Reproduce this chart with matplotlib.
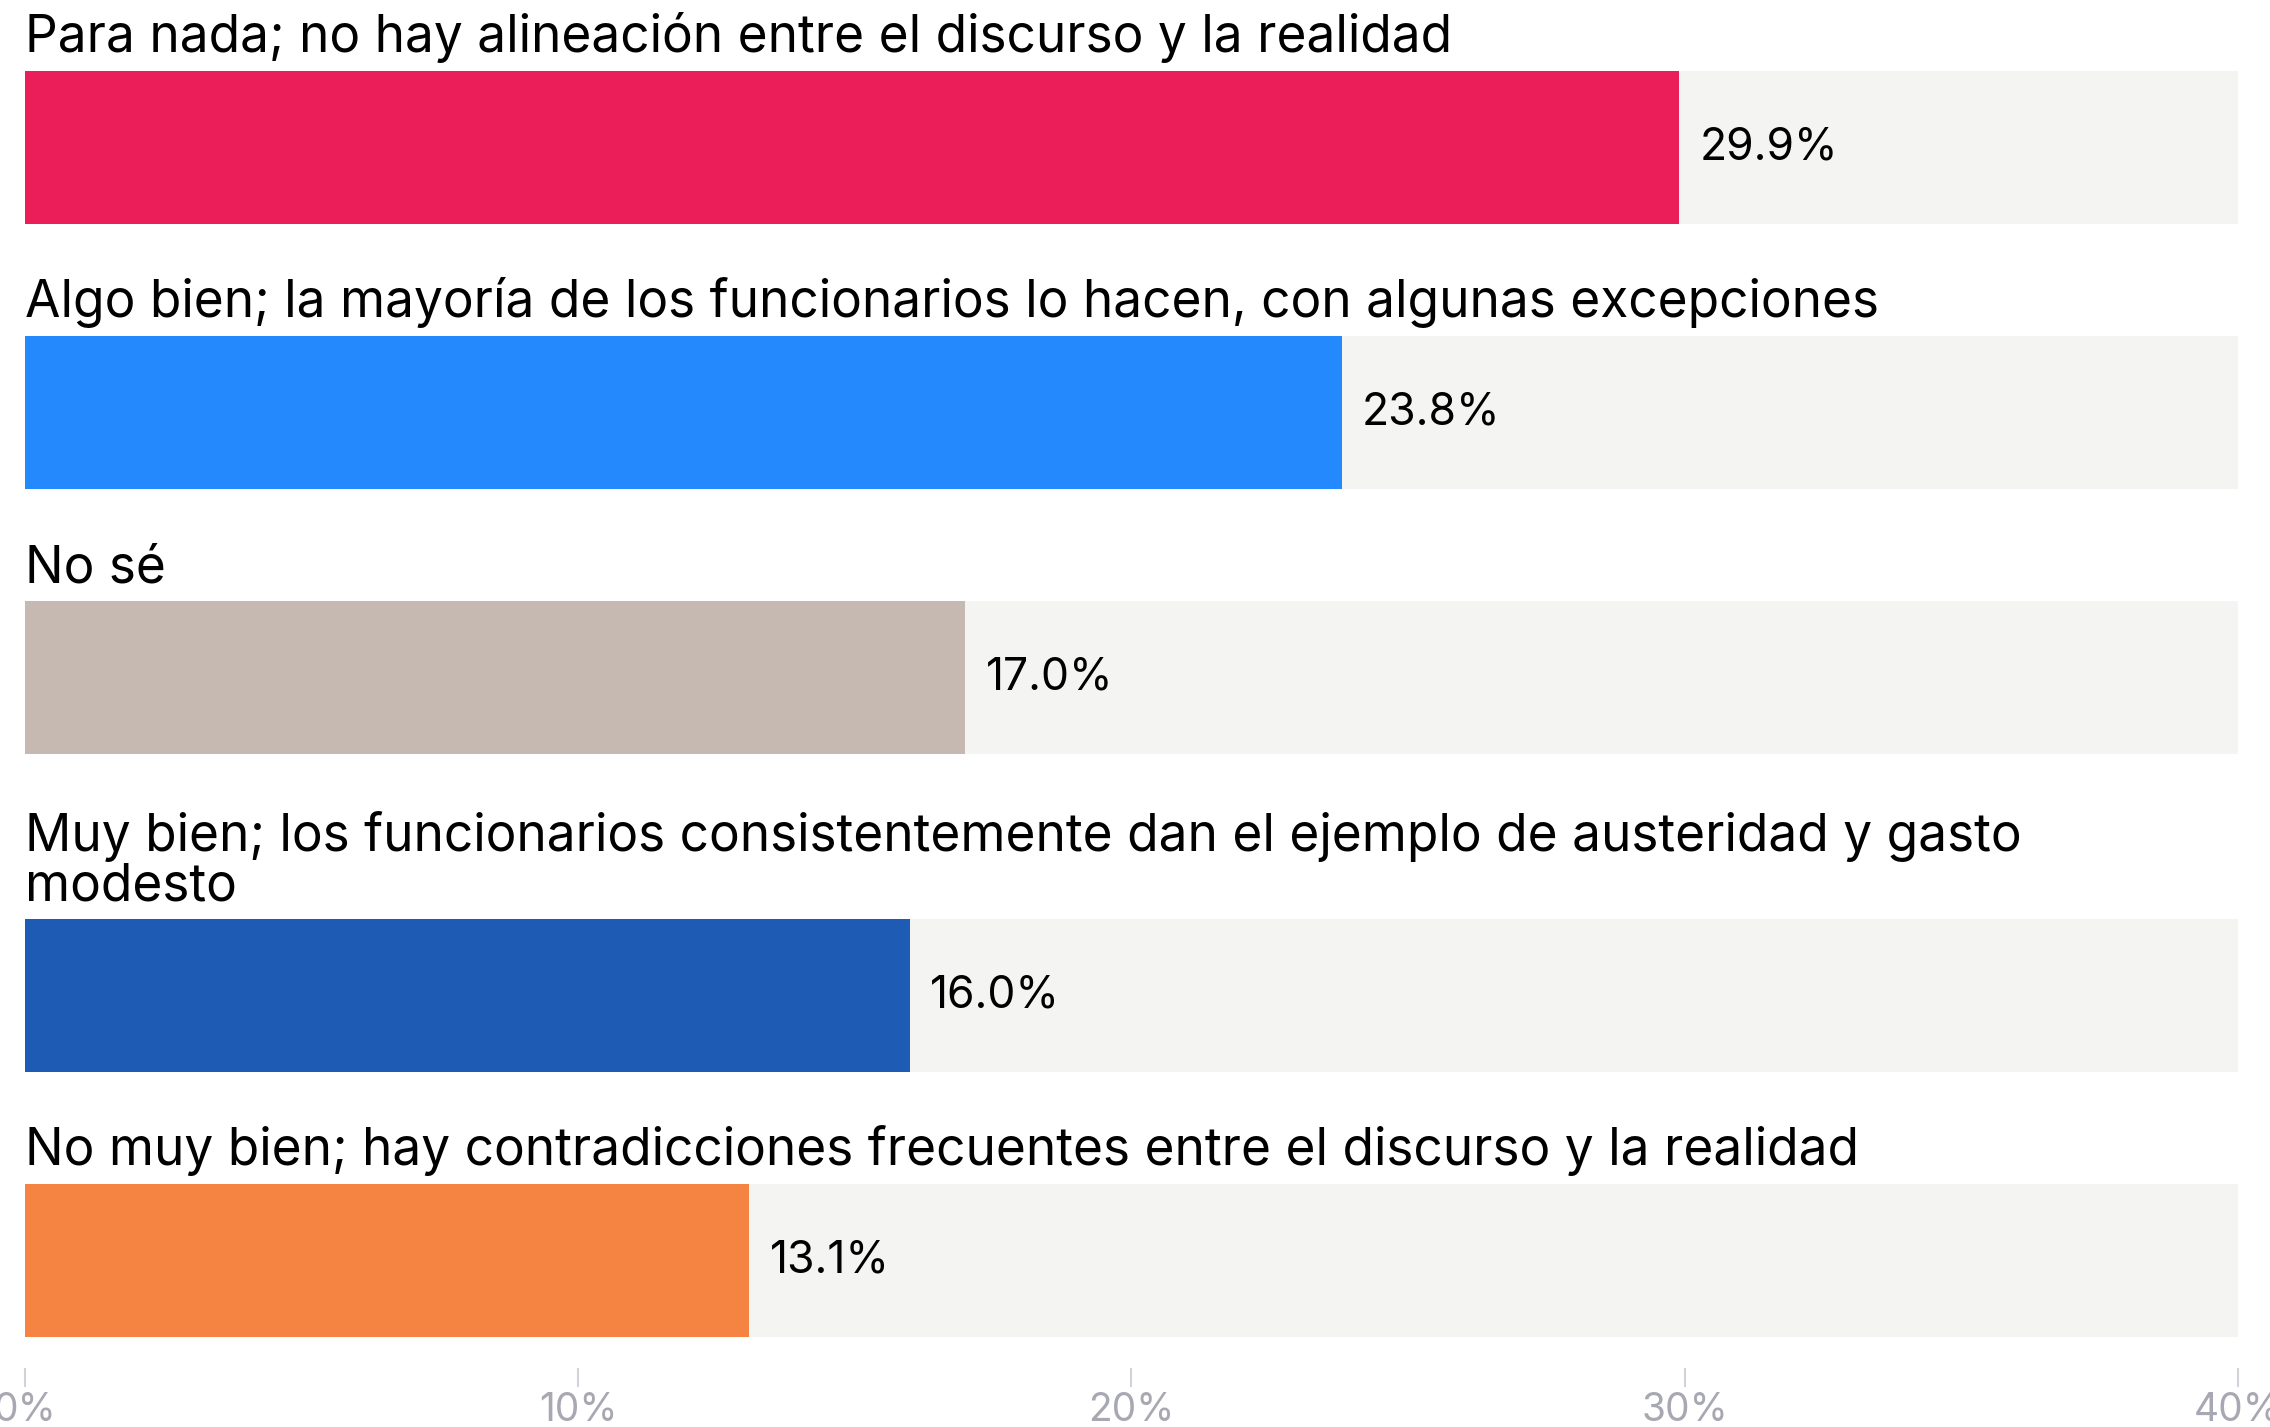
import textwrap
import matplotlib.pyplot as plt

# Data
categories = [
    "Para nada; no hay alineación entre el discurso y la realidad",
    "Algo bien; la mayoría de los funcionarios lo hacen, con algunas excepciones",
    "No sé",
    "Muy bien; los funcionarios consistentemente dan el ejemplo de austeridad y gasto modesto",
    "No muy bien; hay contradicciones frecuentes entre el discurso y la realidad",
]
values = [29.9, 23.8, 17.0, 16.0, 13.1]
colors = ["#EC1E5A", "#2589FE", "#C5B9B1", "#1E5BB4", "#F58442"]
ticks = [0, 10, 20, 30, 40]
tick_labels = ["0%", "10%", "20%", "30%", "40%"]

W, H = 2270, 1427
plt.rcParams['font.family'] = ['Inter', 'DejaVu Sans']

fig = plt.figure(figsize=(W / 100, H / 100), dpi=100)
axis_y = 1368
ax = fig.add_axes([24.6 / W, 1 - axis_y / H, (2238 - 24.6) / W, axis_y / H])
ax.set_xlim(0, 40)
ax.set_ylim(axis_y, 0)

# vertical layout (pixel units)
bar_h = 153
step = 265
line_h = 53
y = 147.7
centers = []
labels = []
for cat in categories:
    lab = textwrap.fill(cat, width=81)
    extra = lab.count("\n") * line_h
    if centers:
        y += step + extra
    centers.append(y)
    labels.append(lab)

ax.barh(centers, [40] * len(values), height=bar_h, color="#F4F4F2", zorder=1)
ax.barh(centers, values, height=bar_h, color=colors, zorder=2)

for c, v, lab in zip(centers, values, labels):
    ax.text(0, c - bar_h / 2 - 8, lab, ha="left", va="bottom",
            fontsize=37, color="black", linespacing=1.0)
    ax.text(v + 0.37, c, f"{v:.1f}%", ha="left", va="center",
            fontsize=32, color="black")

for s in ax.spines.values():
    s.set_visible(False)
ax.set_yticks([])
ax.set_xticks(ticks)
ax.set_xticklabels(tick_labels)
ax.tick_params(axis="x", length=13.5, width=1.5, color="#D2D2DA",
               labelcolor="#A8A8B2", labelsize=28, pad=4)
for t in ax.get_xticklabels():
    t.set_clip_on(False)

fig.savefig("out.png", dpi=100)
